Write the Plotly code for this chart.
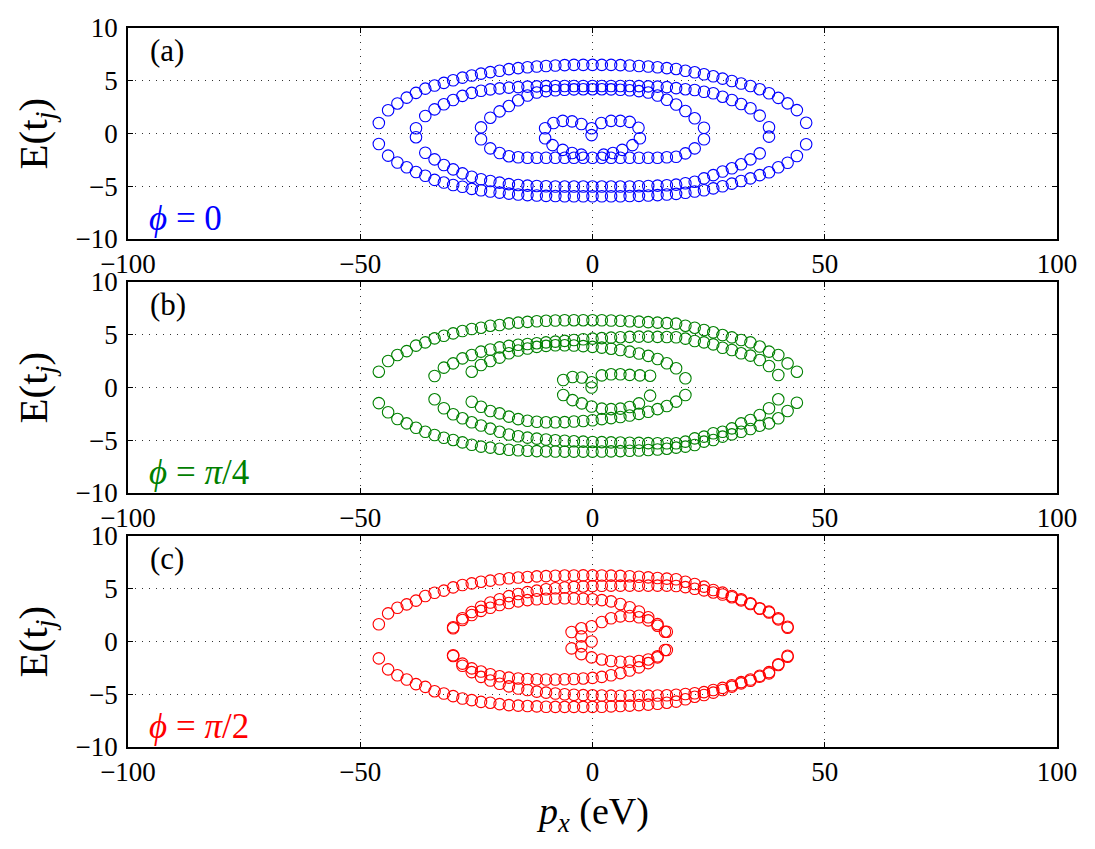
import plotly.graph_objects as go

# ---------------- panel (a) : phi = 0 ----------------
XA1 = [-46,-44,-42,-40,-38,-36,-34,-32,-30,-28,-26,-24,-22,-20,-18,-16,-14,-12,-10,-8,-6,-4,-2,0,
       2,4,6,8,10,12,14,16,18,20,22,24,26,28,30,32,34,36,38,40,42,44,46]
YA1_UP = [1.0,2.2,2.85,3.4,3.85,4.25,4.55,4.8,5.05,5.3,5.5,5.68,5.82,5.95,6.1,6.2,6.28,6.35,6.4,6.45,6.48,6.5,6.5,6.5,
          6.5,6.5,6.48,6.45,6.4,6.35,6.28,6.2,6.12,5.95,5.8,5.62,5.42,5.2,4.98,4.74,4.5,4.2,3.82,3.38,2.86,2.22,1.02]
YA1_LO = [-1.0,-2.1,-2.75,-3.2,-3.65,-4.0,-4.4,-4.65,-4.88,-5.05,-5.25,-5.38,-5.5,-5.6,-5.7,-5.78,-5.84,-5.88,-5.91,-5.93,-5.95,-5.95,-5.95,-5.95,
          -5.95,-5.95,-5.95,-5.93,-5.91,-5.88,-5.84,-5.78,-5.72,-5.62,-5.5,-5.38,-5.2,-5.0,-4.75,-4.5,-4.25,-3.95,-3.68,-3.2,-2.77,-2.13,-1.02]

XA2 = [-38,-36,-34,-32,-30,-28,-26,-24,-22,-20,-18,-16,-14,-12,-10,-8,-6,-4,-2,0,
       2,4,6,8,10,12,14,16,18,20,22,24,26,28,30,32,34,36,38]
YA2_UP = [0.5,1.66,2.29,2.77,3.18,3.57,3.85,4.05,4.18,4.28,4.35,4.4,4.44,4.47,4.49,4.5,4.5,4.5,4.5,4.5,
          4.5,4.5,4.5,4.5,4.49,4.47,4.44,4.4,4.3,4.2,4.12,3.96,3.81,3.49,3.18,2.8,2.39,1.69,0.59]
YA2_LO = [-0.35,-1.82,-2.45,-2.99,-3.4,-3.78,-4.1,-4.34,-4.5,-4.66,-4.8,-4.88,-4.94,-4.98,-5.0,-5.02,-5.03,-5.03,-5.03,-5.03,
          -5.03,-5.03,-5.03,-5.02,-5.0,-4.98,-4.94,-4.9,-4.85,-4.72,-4.57,-4.25,-3.95,-3.6,-3.3,-2.92,-2.45,-1.88,-0.3]

XA3 = [-24,-22,-20,-18,-16,-14,-12,-10,-8,-6,-4,-2,0,2,4,6,8,10,12,14,16,18,20,22,24]
YA3_UP = [0.58,1.5,2.1,2.6,3.15,3.6,3.88,4.02,4.1,4.15,4.18,4.2,4.2,4.2,4.18,4.15,4.1,4.02,3.88,3.6,3.2,2.75,2.13,1.44,0.55]
YA3_LO = [-0.55,-1.41,-1.85,-2.15,-2.25,-2.3,-2.3,-2.3,-2.3,-2.3,-2.3,-2.3,-2.3,-2.3,-2.3,-2.3,-2.3,-2.3,-2.3,-2.3,-2.25,-2.2,-1.88,-1.41,-0.55]

XA4 = [-0.2,-0.2,-2.4,-4.4,-6.4,-8.4,-10.2,-10.2,-8.6,-6.4,-4.4,-2.4,1.9,4.0,6.0,8.0,9.9,10.2,8.6,6.4,4.4,2.4]
YA4 = [0.5,-0.15,0.9,1.15,1.2,1.0,0.5,-0.45,-1.1,-1.55,-1.85,-2.0,1.0,1.2,1.2,1.1,0.55,-0.45,-1.1,-1.55,-1.85,-2.0]

# ---------------- panel (b) : phi = pi/4 ----------------
XB1 = [-46,-44,-42,-40,-38,-36,-34,-32,-30,-28,-26,-24,-22,-20,-18,-16,-14,-12,-10,-8,-6,-4,-2,0,
       2,4,6,8,10,12,14,16,18,20,22,24,26,28,30,32,34,36,38,40,42,44]
YB1_UP = [1.5,2.51,3.08,3.45,3.97,4.28,4.66,4.91,5.13,5.36,5.55,5.67,5.86,5.92,6.08,6.15,6.22,6.28,6.32,6.35,6.37,6.38,6.38,6.38,
          6.37,6.35,6.32,6.28,6.24,6.2,6.15,6.1,6.05,5.86,5.67,5.45,5.23,4.97,4.75,4.5,4.28,3.88,3.4,3.08,2.29,1.5]
YB1_LO = [-1.48,-2.35,-2.99,-3.4,-3.81,-4.19,-4.5,-4.76,-4.97,-5.2,-5.43,-5.6,-5.7,-5.8,-5.9,-5.95,-6.0,-6.03,-6.05,-6.07,-6.08,-6.08,-6.08,-6.08,
          -6.07,-6.05,-6.03,-6.0,-5.97,-5.93,-5.88,-5.8,-5.7,-5.6,-5.45,-5.13,-4.98,-4.66,-4.44,-4.19,-3.93,-3.62,-3.4,-2.92,-2.23,-1.44]

XB2 = [-34,-32,-30,-28,-26,-24,-22,-20,-18,-16,-14,-12,-10,-8,-6,-4,-2,0,
       2,4,6,8,10,12,14,16,18,20,22,24,26,28,30,32,34,36,38,40]
YB2_UP = [1.09,1.88,2.29,2.76,3.08,3.4,3.6,3.8,3.95,4.05,4.12,4.2,4.28,4.35,4.42,4.5,4.57,4.63,
          4.68,4.73,4.77,4.8,4.82,4.82,4.8,4.78,4.76,4.63,4.41,4.28,4.09,3.77,3.55,3.24,3.02,2.61,2.04,1.18]
YB2_LO = [-1.12,-1.97,-2.54,-2.92,-3.3,-3.6,-3.9,-4.2,-4.45,-4.62,-4.75,-4.85,-4.93,-5.0,-5.05,-5.1,-5.13,-5.16,
          -5.18,-5.2,-5.22,-5.24,-5.25,-5.27,-5.28,-5.29,-5.29,-5.13,-4.82,-4.66,-4.34,-4.19,-3.87,-3.4,-3.08,-2.61,-1.97,-1.12]

XB3 = [-26,-24,-22,-20,-18,-16,-14,-12,-10,-8,-6,-4,-2,0,2,4,6,8,10,12,14,16,18,20]
YB3_UP = [1.5,2.13,2.51,2.83,3.24,3.5,3.7,3.85,3.95,4.0,4.0,3.98,3.92,3.85,3.78,3.68,3.55,3.4,3.22,3.0,2.7,2.3,1.82,0.87]
YB3_LO = [-1.35,-1.82,-2.23,-2.45,-2.76,-3.0,-3.15,-3.25,-3.3,-3.3,-3.28,-3.22,-3.18,-3.1,-3.0,-2.9,-2.8,-2.65,-2.5,-2.3,-2.05,-1.75,-1.34,-0.71]

XB4 = [-6.3,-4.3,-2.3,-0.2,-0.2,2.0,4.0,6.0,8.0,10.2,12.4,-6.3,-4.3,-2.3,-0.2,2.0,4.0,6.0,8.0,10.0,12.4]
YB4 = [0.71,1.0,0.95,0.5,0.0,1.15,1.25,1.25,1.2,1.15,1.12,-0.71,-1.2,-1.5,-1.8,-2.0,-2.05,-2.0,-1.85,-1.5,-0.77]

# ---------------- panel (c) : phi = pi/2 ----------------
XC1 = [-46,-44,-42,-40,-38,-36,-34,-32,-30,-28,-26,-24,-22,-20,-18,-16,-14,-12,-10,-8,-6,-4,-2,0,
       2,4,6,8,10,12,14,16,18,20,22,24,26,28,30,32,34,36,38,40,42]
YC1_UP = [1.63,2.67,3.2,3.52,3.87,4.31,4.62,4.82,5.13,5.36,5.51,5.67,5.77,5.9,5.99,6.06,6.12,6.17,6.2,6.23,6.25,6.26,6.27,6.27,
          6.26,6.24,6.22,6.18,6.14,6.08,6.02,5.96,5.9,5.67,5.45,5.2,4.88,4.63,4.31,4.0,3.62,3.15,2.83,2.2,1.4]
YC1_LO = [-1.6,-2.64,-3.2,-3.6,-4.04,-4.3,-4.71,-4.93,-5.18,-5.4,-5.56,-5.72,-5.8,-5.94,-6.03,-6.08,-6.12,-6.15,-6.18,-6.2,-6.2,-6.2,-6.2,-6.2,
          -6.18,-6.15,-6.12,-6.08,-6.03,-5.98,-5.9,-5.8,-5.7,-5.48,-5.23,-5.07,-4.85,-4.6,-4.28,-3.97,-3.72,-3.34,-3.02,-2.23,-1.44]

XC2 = [-30,-28,-26,-24,-22,-20,-18,-16,-14,-12,-10,-8,-6,-4,-2,0,
       2,4,6,8,10,12,14,16,18,20,22,24,26,28,30,32,34,36,38,40,42]
YC2_UP = [1.25,2.2,2.8,3.3,3.7,4.0,4.3,4.5,4.68,4.82,4.95,5.05,5.12,5.18,5.22,5.25,
          5.28,5.3,5.3,5.3,5.3,5.3,5.3,5.3,5.26,5.15,5.0,4.85,4.65,4.45,4.2,3.9,3.55,3.1,2.75,2.1,1.3]
YC2_LO = [-1.37,-2.3,-2.9,-3.35,-3.7,-4.0,-4.25,-4.45,-4.6,-4.75,-4.85,-4.93,-5.0,-5.05,-5.08,-5.1,
          -5.12,-5.13,-5.14,-5.14,-5.14,-5.13,-5.12,-5.1,-5.05,-4.98,-4.9,-4.8,-4.6,-4.4,-4.15,-3.85,-3.6,-3.25,-2.9,-2.15,-1.35]

XC3 = [-30,-28,-26,-24,-22,-20,-18,-16,-14,-12,-10,-8,-6,-4,-2,0,2,4,6,8,10,12,14,16]
YC3_UP = [1.35,2.04,2.51,2.9,3.2,3.46,3.65,3.8,3.92,4.0,4.05,4.08,4.1,4.08,4.05,4.0,3.92,3.8,3.55,3.25,2.85,2.3,1.65,0.93]
YC3_LO = [-1.3,-2.1,-2.55,-2.85,-3.1,-3.3,-3.42,-3.5,-3.55,-3.58,-3.6,-3.6,-3.58,-3.55,-3.5,-3.45,-3.35,-3.2,-3.0,-2.75,-2.45,-2.05,-1.5,-0.81]

XC4 = [-0.2,-2.4,-2.4,-4.5,-4.5,-2.4,-0.2,2.0,4.0,6.0,8.0,10.0,12.0,14.0,15.6,
       -2.4,-0.2,2.0,4.0,6.0,8.0,10.0,12.0,14.0,15.6]
YC4 = [0.0,0.49,-0.46,0.9,-0.65,1.25,1.45,1.85,2.2,2.38,2.42,2.3,2.0,1.5,0.93,
       -1.2,-1.5,-1.7,-1.85,-1.92,-1.92,-1.85,-1.7,-1.4,-0.81]

PANELS = [
    ("(a)", "<i>ϕ</i> = 0", "#0000ff",
     [(XA1, YA1_UP), (XA1, YA1_LO), (XA2, YA2_UP), (XA2, YA2_LO), (XA3, YA3_UP), (XA3, YA3_LO), (XA4, YA4)]),
    ("(b)", "<i>ϕ</i> = <i>π</i>/4", "#008000",
     [(XB1, YB1_UP), (XB1, YB1_LO), (XB2, YB2_UP), (XB2, YB2_LO), (XB3, YB3_UP), (XB3, YB3_LO), (XB4, YB4)]),
    ("(c)", "<i>ϕ</i> = <i>π</i>/2", "#ff0000",
     [(XC1, YC1_UP), (XC1, YC1_LO), (XC2, YC2_UP), (XC2, YC2_LO), (XC3, YC3_UP), (XC3, YC3_LO), (XC4, YC4)]),
]

X_TICKS = [-100, -50, 0, 50, 100]
Y_TICKS = [-10, -5, 0, 5, 10]

W, H = 1095, 849
L, R, T, B = 128, 38, 28, 102
plot_h = H - T - B
PANEL_PX = [(28, 239), (282, 493), (536, 747)]

FONT = "Liberation Serif"
fig = go.Figure()
layout = dict(
    width=W, height=H, margin=dict(l=L, r=R, t=T, b=B),
    paper_bgcolor="white", plot_bgcolor="white", showlegend=False,
    font=dict(family=FONT, size=26, color="black"),
)
annotations = []
for i, (lab, phi, color, curves) in enumerate(PANELS):
    k = "" if i == 0 else str(i + 1)
    top, bot = PANEL_PX[i]
    dom = [(H - B - bot) / plot_h, (H - B - top) / plot_h]
    for xs, ys in curves:
        fig.add_trace(go.Scatter(
            x=xs, y=ys, mode="markers", xaxis="x" + k, yaxis="y" + k,
            marker=dict(symbol="circle-open", size=11.5, color=color, line=dict(width=1.1, color=color)),
            hoverinfo="skip"))
    axis_common = dict(showline=True, linecolor="black", linewidth=1.8, mirror="ticks",
                       ticks="inside", ticklen=5, tickwidth=1, tickcolor="black",
                       showgrid=True, gridcolor="#333333", gridwidth=1.3, griddash="1px,6px",
                       zeroline=False, tickfont=dict(family=FONT, size=27, color="black"))
    layout["xaxis" + k] = dict(axis_common, domain=[0, 1], range=[-100, 100], tickvals=X_TICKS,
                               anchor="y" + k, ticklabelstandoff=0)
    layout["yaxis" + k] = dict(axis_common, domain=dom, range=[-10, 10], tickvals=Y_TICKS,
                               anchor="x" + k, ticklabelstandoff=3)
    annotations.append(dict(x=-95.8, y=7.9, xref="x" + k, yref="y" + k, text=lab, showarrow=False,
                            xanchor="left", yanchor="middle", font=dict(family=FONT, size=31, color="black")))
    annotations.append(dict(x=-96.0, y=-8.1, xref="x" + k, yref="y" + k, text=phi, showarrow=False,
                            xanchor="left", yanchor="middle", font=dict(family=FONT, size=35, color=color)))
    annotations.append(dict(x=(35 - L) / (W - L - R), y=(dom[0] + dom[1]) / 2, xref="paper", yref="paper",
                            text="E(t<sub><i>j</i></sub>)", textangle=-90, showarrow=False,
                            xanchor="center", yanchor="middle", font=dict(family=FONT, size=41, color="black")))

annotations.append(dict(x=(592 - L) / (W - L - R), y=(H - B - 814) / plot_h, xref="paper", yref="paper",
                        text="<i>p</i><sub><i>x</i></sub> (eV)", showarrow=False,
                        xanchor="center", yanchor="middle", font=dict(family=FONT, size=38, color="black")))
layout["annotations"] = annotations
fig.update_layout(**layout)
fig.write_html("out.html")
